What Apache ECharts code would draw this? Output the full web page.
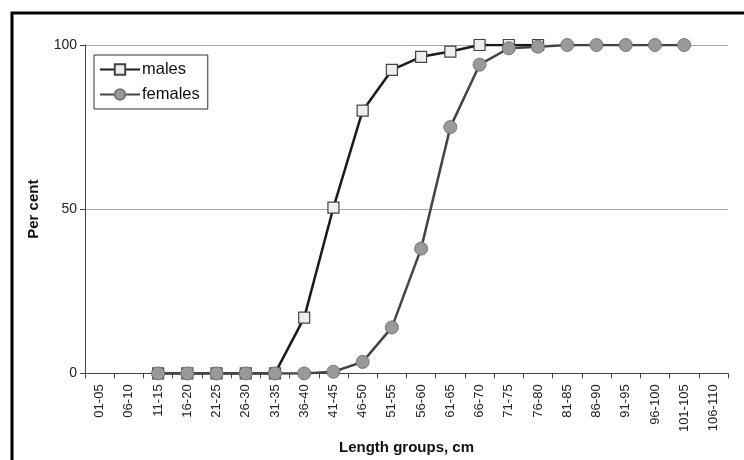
<!DOCTYPE html>
<html><head><meta charset="utf-8">
<script src="https://cdn.jsdelivr.net/npm/echarts@6/dist/echarts.min.js"></script>
<style>html,body{margin:0;padding:0;background:#fff}#c{width:744px;height:460px}</style>
</head><body><div id="c"></div>
<script>
const categories = ["01-05","06-10","11-15","16-20","21-25","26-30","31-35","36-40","41-45","46-50","51-55","56-60","61-65","66-70","71-75","76-80","81-85","86-90","91-95","96-100","101-105","106-110"];
const males = [null,null,0,0,0,0,0,17,50.5,80,92.4,96.4,98,100,100,100,null,null,null,null,null,null];
const females = [null,null,0,0,0,0,0,0,0.5,3.5,14,38,75,94,99,99.5,100,100,100,100,100,null];
const yTicks = [0,50,100];

const chart = echarts.init(document.getElementById('c'), null, {renderer:'canvas'});
const font = 'Arial, "Liberation Sans", sans-serif';
chart.setOption({
  animation:false,
  backgroundColor:'#fff',
  graphic:[{type:'rect',shape:{x:12,y:13,width:800,height:500},style:{fill:'none',stroke:'#000',lineWidth:3},z:100}],
  grid:{left:85,right:16,top:45,bottom:85,containLabel:false},
  legend:{
    orient:'vertical',left:94,top:55,
    borderColor:'#333',borderWidth:1,padding:[6,8,6,5],itemGap:8,
    itemWidth:40,itemHeight:13,
    textStyle:{fontFamily:font,fontSize:16.5,color:'#111',padding:[0,0,0,-3]},
    data:['males','females']
  },
  xAxis:{
    type:'category',data:categories,boundaryGap:true,
    name:'Length groups, cm',nameLocation:'middle',nameGap:64,
    nameTextStyle:{fontFamily:font,fontSize:15,fontWeight:'bold',color:'#111'},
    axisLine:{lineStyle:{color:'#444',width:1}},
    axisTick:{show:true,alignWithLabel:false,length:5,lineStyle:{color:'#444'}},
    axisLabel:{rotate:90,interval:0,fontFamily:font,fontSize:13,color:'#222',margin:11}
  },
  yAxis:{
    type:'value',min:0,max:100,interval:50,
    name:'Per cent',nameLocation:'middle',nameGap:44,
    nameTextStyle:{fontFamily:font,fontSize:15,fontWeight:'bold',color:'#111'},
    axisLine:{show:true,lineStyle:{color:'#444',width:1}},
    axisTick:{show:true,length:5,lineStyle:{color:'#444'}},
    axisLabel:{fontFamily:font,fontSize:14,color:'#222',margin:8,formatter:v=>yTicks.includes(v)?String(v):''},
    splitLine:{show:true,lineStyle:{color:'#aaa',width:1}}
  },
  series:[
    {name:'males',type:'line',data:males,connectNulls:false,
     symbol:'rect',symbolSize:11,
     lineStyle:{color:'#1a1a1a',width:2.5},
     itemStyle:{color:'#eeeeee',borderColor:'#444',borderWidth:1.2},z:2},
    {name:'females',type:'line',data:females,connectNulls:false,
     symbol:'circle',symbolSize:13,
     lineStyle:{color:'#444',width:2.5},
     itemStyle:{color:'#999',borderColor:'#777',borderWidth:1},z:3}
  ]
});
</script></body></html>
